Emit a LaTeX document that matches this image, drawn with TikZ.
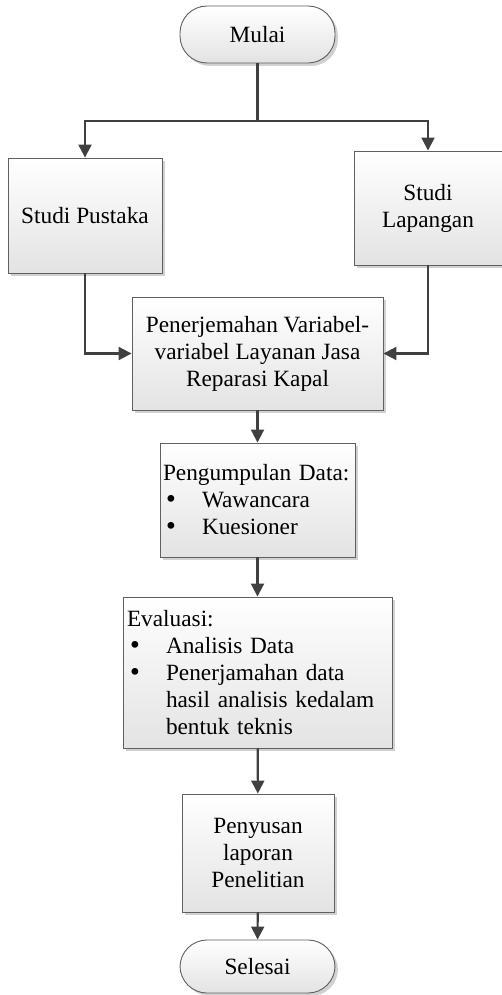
\documentclass[tikz,border=0pt]{standalone}
\usepackage{fontspec}
\setmainfont{Liberation Serif}
\newfontfamily\titik{DejaVu Sans}
\usetikzlibrary{arrows.meta}
\usetikzlibrary{shadows}

\newcommand{\butir}[1]{\makebox[39pt][l]{\hspace{1pt}{\titik •}}#1}

\tikzset{
  kotak/.style={draw={rgb,255:red,96;green,96;blue,96}, line width=0.9pt,
    top color=white, bottom color=black!11, inner sep=0pt, align=center,
    drop shadow={shadow xshift=3pt, shadow yshift=-3pt, fill=black!18, opacity=1},
    font=\fontsize{23.3}{27}\selectfont},
  ujung/.style={kotak, rounded corners=27pt},
  panah/.style={draw={rgb,255:red,64;green,64;blue,64}, line width=2.1pt,
    -{Triangle[length=13pt,width=13pt]}},
  garis/.style={draw={rgb,255:red,64;green,64;blue,64}, line width=2.1pt}
}

\begin{document}
\begin{tikzpicture}[x=1pt,y=-1pt]
\useasboundingbox (0,0) rectangle (502,995);

%Terminator: Mulai
\node [ujung, minimum width=155pt, minimum height=57pt] (mulai) at (257.5,34.5) {Mulai};
%Process: Studi Pustaka
\node [kotak, minimum width=154pt, minimum height=115pt] (pustaka) at (85,215.5) {Studi Pustaka};
%Process: Studi Lapangan
\node [kotak, minimum width=148pt, minimum height=114pt] (lapangan) at (428,208) {Studi\\Lapangan};
%Process: Penerjemahan
\node [kotak, minimum width=251pt, minimum height=113pt] (terjemah) at (257.5,353.5)
  {Penerjemahan Variabel-\\variabel Layanan Jasa\\Reparasi Kapal};
%Process: Pengumpulan Data
\node [kotak, minimum width=195pt, minimum height=114pt, text width=189pt, align=left] (kumpul) at (257.5,500)
  {Pengumpulan Data:\\\butir{Wawancara}\\\butir{Kuesioner}};
%Process: Evaluasi
\node [kotak, minimum width=269pt, minimum height=151pt, text width=261pt, align=left] (evaluasi) at (257.5,672.5)
  {Evaluasi:\\\butir{Analisis Data}\\\butir{Penerjamahan data}\\\hspace*{39pt}hasil analisis kedalam\\\hspace*{39pt}bentuk teknis};
%Process: Penyusunan laporan
\node [kotak, minimum width=152pt, minimum height=118pt] (susun) at (258,853) {Penyusan\\laporan\\Penelitian};
%Terminator: Selesai
\node [ujung, minimum width=155pt, minimum height=53pt] (selesai) at (257.5,966.5) {Selesai};

%Connectors
\coordinate (cabang) at (257.5,121);
\draw [garis] (mulai) -- (cabang);
\draw [panah] (cabang) -| (pustaka);
\draw [panah] (cabang) -| (lapangan);
\draw [panah] (pustaka) |- (terjemah);
\draw [panah] (lapangan) |- (terjemah);
\draw [panah] (terjemah) -- (kumpul);
\draw [panah] (kumpul) -- (evaluasi);
\draw [panah] (evaluasi) -- (susun);
\draw [panah] (susun) -- (selesai);

\end{tikzpicture}
\end{document}
